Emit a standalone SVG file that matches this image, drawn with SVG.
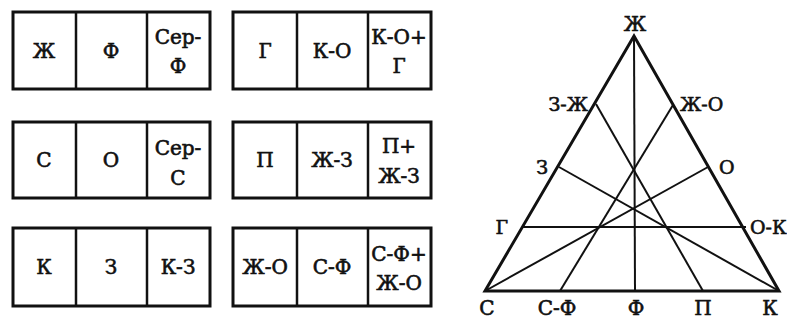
<svg xmlns="http://www.w3.org/2000/svg" width="787" height="320" viewBox="0 0 787 320">
<style>
.bx{fill:none;stroke:#111;stroke-width:3}
.dv{stroke:#111;stroke-width:2.5}
.t{font-family:"DejaVu Serif",serif;font-size:20px;fill:#111;stroke:#111;stroke-width:0.6;text-anchor:middle}
.s{font-family:"DejaVu Serif",serif;font-size:19px;fill:#111;stroke:#111;stroke-width:0.6}
.side{stroke:#111;stroke-width:3;fill:none;stroke-linejoin:miter}
.ln{stroke:#111;stroke-width:2}
</style>
<rect width="787" height="320" fill="#fff"/>
<g id="row1-left">
<rect class="bx" x="13" y="12" width="197" height="77"/>
<line class="dv" x1="76" y1="12" x2="76" y2="89"/><line class="dv" x1="147" y1="12" x2="147" y2="89"/>
<text class="t" x="44" y="58">Ж</text><text class="t" x="111" y="58">Ф</text>
<text class="t" x="178" y="44">Сер-</text><text class="t" x="178" y="73">Ф</text>
</g>
<g id="row1-right">
<rect class="bx" x="233" y="12" width="198" height="77"/>
<line class="dv" x1="297" y1="12" x2="297" y2="89"/><line class="dv" x1="368" y1="12" x2="368" y2="89"/>
<text class="t" x="265" y="58">Г</text><text class="t" x="332" y="58">К-О</text>
<text class="t" x="399" y="44">К-О+</text><text class="t" x="399" y="73">Г</text>
</g>
<g id="row2-left">
<rect class="bx" x="13" y="122" width="197" height="76"/>
<line class="dv" x1="76" y1="122" x2="76" y2="198"/><line class="dv" x1="147" y1="122" x2="147" y2="198"/>
<text class="t" x="44" y="167">С</text><text class="t" x="111" y="167">О</text>
<text class="t" x="178" y="155">Сер-</text><text class="t" x="178" y="185">С</text>
</g>
<g id="row2-right">
<rect class="bx" x="233" y="122" width="198" height="76"/>
<line class="dv" x1="297" y1="122" x2="297" y2="198"/><line class="dv" x1="368" y1="122" x2="368" y2="198"/>
<text class="t" x="265" y="167">П</text><text class="t" x="332" y="167">Ж-З</text>
<text class="t" x="399" y="153">П+</text><text class="t" x="399" y="183">Ж-З</text>
</g>
<g id="row3-left">
<rect class="bx" x="13" y="228" width="197" height="78"/>
<line class="dv" x1="76" y1="228" x2="76" y2="306"/><line class="dv" x1="147" y1="228" x2="147" y2="306"/>
<text class="t" x="44" y="274">К</text><text class="t" x="111" y="274">З</text><text class="t" x="178" y="274">К-З</text>
</g>
<g id="row3-right">
<rect class="bx" x="233" y="228" width="198" height="78"/>
<line class="dv" x1="297" y1="228" x2="297" y2="306"/><line class="dv" x1="368" y1="228" x2="368" y2="306"/>
<text class="t" x="265" y="274">Ж-О</text><text class="t" x="332" y="274">С-Ф</text>
<text class="t" x="399" y="261">С-Ф+</text><text class="t" x="399" y="290">Ж-О</text>
</g>
<g id="connectors">
<line class="ln" x1="634" y1="37" x2="635" y2="291"/>
<line class="ln" x1="596" y1="104" x2="703" y2="291"/>
<line class="ln" x1="673" y1="105" x2="560" y2="291"/>
<line class="ln" x1="559" y1="167" x2="779" y2="291"/>
<line class="ln" x1="485" y1="291" x2="708" y2="167"/>
<line class="ln" x1="522" y1="227" x2="746" y2="227"/>
</g>
<g id="triangle">
<polygon class="side" points="634,36 485,291 779,291"/>
</g>
<g id="labels">
<text class="t" x="635" y="31">Ж</text>
<text class="s" x="588" y="111" text-anchor="end">З-Ж</text>
<text class="s" x="680" y="111">Ж-О</text>
<text class="s" x="548" y="174" text-anchor="end">З</text>
<text class="s" x="719" y="174">О</text>
<text class="s" x="508" y="234" text-anchor="end">Г</text>
<text class="s" x="750" y="234">О-К</text>
<text class="t" x="487" y="315">С</text>
<text class="t" x="557" y="315">С-Ф</text>
<text class="t" x="636" y="315">Ф</text>
<text class="t" x="703" y="315">П</text>
<text class="t" x="770" y="315">К</text>
</g>
</svg>
